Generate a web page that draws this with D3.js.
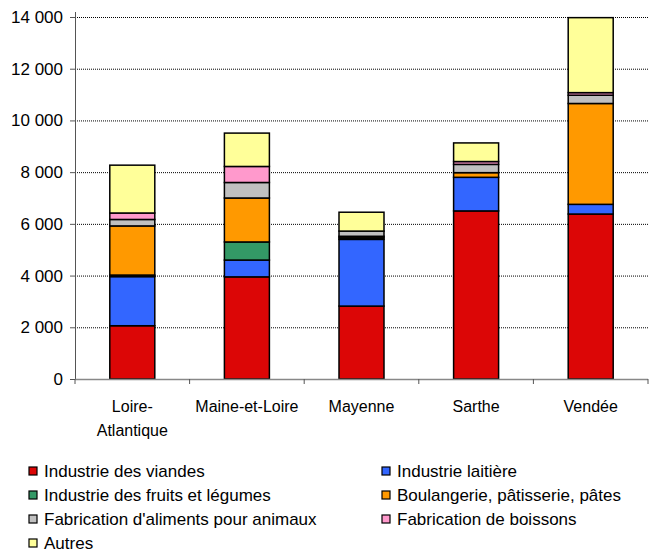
<!DOCTYPE html>
<html>
<head>
<meta charset="utf-8">
<script src="https://cdn.jsdelivr.net/npm/d3@7"></script>
<style>
  body { margin: 0; background: #fff; }
  svg { font-family: "Liberation Sans", Arial, sans-serif; }
</style>
</head>
<body>
<svg width="655" height="556"></svg>
<script>
const departements = ["Loire-Atlantique", "Maine-et-Loire", "Mayenne", "Sarthe", "Vendée"];
const seriesNames = [
  "Industrie des viandes", "Industrie laitière", "Industrie des fruits et légumes",
  "Boulangerie, pâtisserie, pâtes", "Fabrication d'aliments pour animaux",
  "Fabrication de boissons", "Autres"
];
const viandes     = [2060, 3950, 2820, 6500, 6380];
const laitiere    = [1900,  650, 2580, 1300,  375];
const fruits      = [  60,  700,   60,    0,    0];
const boulangerie = [1900, 1700,   60,  180, 3900];
const animaux     = [ 250,  600,  200,  320,  320];
const boissons    = [ 250,  620,    0,  110,  100];
const autres      = [1850, 1290,  730,  720, 2900];
const yTicks = [0, 2000, 4000, 6000, 8000, 10000, 12000, 14000];

const colors = ["#dc0606", "#3366ff", "#339966", "#ff9900", "#c0c0c0", "#ff99cc", "#ffff99"];
const seriesValues = [viandes, laitiere, fruits, boulangerie, animaux, boissons, autres];

const rows = departements.map((d, i) => {
  const r = { dep: d };
  seriesNames.forEach((s, j) => r[s] = seriesValues[j][i]);
  return r;
});

const svg = d3.select("svg");
const plotLeft = 75, plotRight = 648, plotTop = 17, plotBottom = 379;

const x = d3.scaleBand().domain(departements).range([plotLeft, plotRight]).padding(0);
const y = d3.scaleLinear().domain([0, 14000]).range([plotBottom, plotTop]);
const barW = 45;

// gridlines
svg.append("g")
  .selectAll("line")
  .data(yTicks.filter(t => t > 0))
  .enter().append("line")
  .attr("x1", plotLeft).attr("x2", plotRight)
  .attr("y1", d => y(d) + 0.5).attr("y2", d => y(d) + 0.5)
  .attr("stroke", "#000").attr("stroke-width", 1)
  .attr("stroke-dasharray", "1,1");

// bars
const stack = d3.stack().keys(seriesNames)(rows);
svg.append("g")
  .selectAll("g")
  .data(stack)
  .enter().append("g")
  .attr("fill", (d, i) => colors[i])
  .selectAll("rect")
  .data(d => d.filter(s => s[1] - s[0] > 0))
  .enter().append("rect")
  .attr("x", d => x(d.data.dep) + (x.bandwidth() - barW) / 2)
  .attr("width", barW)
  .attr("y", d => y(d[1]))
  .attr("height", d => y(d[0]) - y(d[1]))
  .attr("stroke", "#000")
  .attr("stroke-width", 1.5);

// y axis
const yAxis = svg.append("g")
  .attr("transform", `translate(${plotLeft},0)`)
  .call(d3.axisLeft(y).tickValues(yTicks).tickSize(5).tickPadding(7)
    .tickFormat(d => d3.format(",")(d).replace(",", " ")));
yAxis.select(".domain").attr("stroke", "#555").attr("d", `M0.5,${plotTop - 5}V${plotBottom}`);
yAxis.selectAll(".tick line").attr("stroke", "#555");
yAxis.selectAll("text").attr("font-size", 17).attr("fill", "#000")
  .attr("font-family", "Liberation Sans, Arial, sans-serif");

// x axis
const xAxis = svg.append("g").attr("transform", `translate(0,${plotBottom})`);
xAxis.append("line")
  .attr("x1", plotLeft).attr("x2", plotRight).attr("y1", 0.5).attr("y2", 0.5)
  .attr("stroke", "#888").attr("stroke-width", 1.5);
xAxis.selectAll(".xt")
  .data(departements.map(d => x(d)).concat([plotRight]))
  .enter().append("line")
  .attr("x1", d => d).attr("x2", d => d).attr("y1", 0).attr("y2", 5)
  .attr("stroke", "#555");

const labelLines = { "Loire-Atlantique": ["Loire-", "Atlantique"] };
departements.forEach(d => {
  const lines = labelLines[d] || [d];
  const t = svg.append("text")
    .attr("x", x(d) + x.bandwidth() / 2)
    .attr("y", 412)
    .attr("text-anchor", "middle")
    .attr("font-size", 16)
    .attr("fill", "#000");
  lines.forEach((l, i) => t.append("tspan")
    .attr("x", x(d) + x.bandwidth() / 2)
    .attr("dy", i === 0 ? 0 : 24)
    .text(l));
});

// legend
const legend = svg.append("g")
  .selectAll("g")
  .data(seriesNames)
  .enter().append("g")
  .attr("transform", (d, i) => `translate(${i % 2 === 0 ? 29 : 382},${467 + Math.floor(i / 2) * 24})`);
legend.append("rect")
  .attr("width", 8).attr("height", 8)
  .attr("fill", (d, i) => colors[i])
  .attr("stroke", "#000").attr("stroke-width", 1.2);
legend.append("text")
  .attr("x", 15).attr("y", 10)
  .attr("font-size", 17)
  .attr("fill", "#000")
  .text(d => d);
</script>
</body>
</html>
